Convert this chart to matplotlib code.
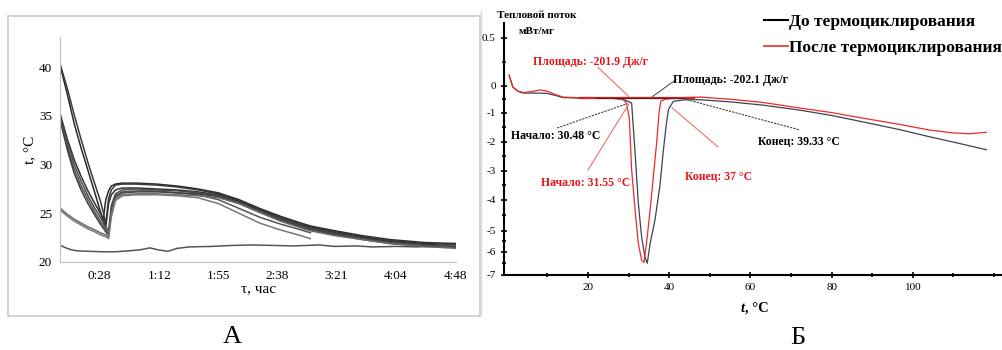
import numpy as np
import matplotlib.pyplot as plt
from matplotlib.patches import Rectangle
from matplotlib.lines import Line2D

plt.rcParams['font.family'] = ['Liberation Serif', 'DejaVu Serif']

# ---------- panel A: temperature vs time (minutes) ----------
tA = [0, 5, 10, 15, 20, 25, 29, 31, 33, 35, 37, 40, 45, 55, 70, 85, 100, 115,
      130, 145, 160, 175, 182, 200, 220, 240, 265, 288]
c1 = [40.0, 37.2, 34.2, 31.7, 29.4, 27.1, 25.2, 24.3, 26.4, 27.3, 27.8, 28.0, 28.1, 28.1,
      28.0, 27.8, 27.5, 27.1, 26.4, 25.5, 24.7, 24.0, 23.7, 23.2, 22.7, 22.3, 22.0, 21.9]
c2 = [40.2, 37.8, 35.1, 32.6, 30.2, 28.0, 26.3, 25.2, 23.9, 26.5, 27.4, 27.9, 28.0, 28.0,
      27.9, 27.7, 27.4, 27.0, 26.3, 25.4, 24.6, 23.9, 23.6, 23.1, 22.6, 22.2, 21.9, 21.8]
c3 = [35.1, 32.6, 30.5, 28.8, 27.3, 26.0, 25.0, 24.5, 23.6, 26.0, 26.9, 27.4, 27.6, 27.6,
      27.5, 27.4, 27.2, 26.9, 26.2, 25.3, 24.5, 23.8, 23.5, 23.0, 22.5, 22.1, 21.8, 21.7]
c4 = [34.9, 32.2, 30.0, 28.3, 26.8, 25.5, 24.6, 24.1, 23.6, 23.2, 25.8, 27.0, 27.4, 27.5,
      27.4, 27.3, 27.1, 26.8, 26.1, 25.2, 24.4, 23.7, 23.4, 22.9, 22.4, 22.0, 21.7, 21.6]
c5 = [34.6, 31.8, 29.5, 27.8, 26.4, 25.1, 24.2, 23.8, 23.3, 22.9, 25.4, 26.8, 27.2, 27.3,
      27.3, 27.1, 26.9, 26.4, 25.5, 24.6, 23.9, 23.3, 23.0]
c6 = [34.4, 31.5, 29.1, 27.4, 26.0, 24.8, 23.9, 23.5, 23.1, 22.8, 25.2, 26.7, 27.1, 27.2,
      27.2, 27.1, 27.0, 26.7, 26.0, 25.1, 24.3, 23.6, 23.3, 22.8, 22.3, 21.9, 21.6, 21.5]
c7 = [25.5, 24.9, 24.4, 24.0, 23.6, 23.3, 23.0, 22.9, 22.8, 22.6, 25.0, 26.5, 26.9, 27.0,
      27.0, 26.9, 26.8, 26.6, 26.0, 25.1, 24.2, 23.5, 23.2, 22.7, 22.3, 21.9, 21.6, 21.4]
c8 = [25.3, 24.7, 24.2, 23.8, 23.4, 23.1, 22.8, 22.7, 22.6, 22.4, 24.6, 26.3, 26.8, 26.9,
      26.9, 26.8, 26.6, 26.0, 25.0, 24.0, 23.3, 22.7, 22.4]

tB = [0, 4, 8, 12, 20, 30, 40, 50, 58, 65, 71, 78, 85, 94, 110, 125, 140, 155,
      170, 188, 200, 215, 227, 245, 260, 275, 288]
vB = [21.7, 21.45, 21.25, 21.15, 21.1, 21.05, 21.05, 21.15, 21.25, 21.45, 21.25, 21.1,
      21.4, 21.55, 21.6, 21.7, 21.75, 21.7, 21.65, 21.75, 21.6, 21.65, 21.55, 21.6,
      21.55, 21.65, 21.7]

a_ticks = [28, 72, 115, 158, 201, 244, 288]
a_labels = ['0:28', '1:12', '1:55', '2:38', '3:21', '4:04', '4:48']

# ---------- panel B: DSC heat flow ----------
bx = [0.6, 1.5, 2.8, 4.1, 7, 9.8, 12, 13.9, 18, 22, 26, 28.5, 29.9, 30.75, 31.6, 32.4,
      33.2, 34.0, 34.6, 35.3, 36.5, 37.7, 38.5, 39.2, 39.8, 41.0, 44, 47.6, 55, 63, 72.2,
      80, 88, 96.8, 104, 111, 118.1]
by = [0.11, -0.05, -0.21, -0.27, -0.27, -0.28, -0.36, -0.44, -0.46, -0.46, -0.47, -0.5,
      -0.58, -0.64, -2.39, -4.11, -5.28, -6.2, -6.49, -5.6, -4.65, -3.53, -2.39, -1.51,
      -0.89, -0.58, -0.52, -0.52, -0.6, -0.72, -0.91, -1.1, -1.33, -1.59, -1.83, -2.05, -2.28]
rx = [0.6, 1.5, 2.8, 4.1, 6, 8.2, 10, 12, 13.9, 18, 22, 26, 28.5, 29.5, 30.2, 30.75, 31.6,
      32.4, 33.2, 33.8, 34.4, 35.3, 36.1, 36.9, 37.5, 37.9, 39, 42, 47.6, 55, 63, 72.2, 80,
      88, 96.8, 104, 109.9, 114, 118.1]
ry = [0.11, -0.05, -0.2, -0.25, -0.22, -0.15, -0.2, -0.33, -0.42, -0.45, -0.45, -0.46,
      -0.5, -0.64, -1.24, -2.97, -4.33, -5.6, -6.35, -6.46, -5.6, -4.33, -3.2, -2.05, -1.01,
      -0.58, -0.5, -0.45, -0.42, -0.5, -0.62, -0.83, -1.0, -1.2, -1.41, -1.6, -1.7, -1.73, -1.68]

# baselines and leader lines: (x0, y0, x1, y1)
base_red = (18, -0.45, 46, -0.45)
base_blk = (22, -0.44, 44, -0.44)
lead_red = [(22.5, 0.19, 30.1, -0.41), (20.0, -2.98, 30.1, -0.67), (52.0, -2.18, 40.7, -0.82)]
lead_blk = [(35.8, -0.41, 41.7, 0.065)]
lead_blk_dash = [(12.4, -1.53, 29.6, -0.67), (44.4, -0.52, 72.2, -1.6)]

notes = [
    ('Площадь: -201.9 Дж/г', 20.5, 0.25, 'red'),
    ('Площадь: -202.1 Дж/г', 55.0, 0.065, 'black'),
    ('Начало: 30.48 °C', 12.1, -1.80, 'black'),
    ('Начало: 31.55 °C', 19.4, -3.43, 'red'),
    ('Конец: 37 °C', 52.1, -3.21, 'red'),
    ('Конец: 39.33 °C', 71.9, -2.01, 'black'),
]

# tick values and their heights on the (unevenly drawn) original axis
y_vals = [-8, -7, -6, -5, -4, -3, -2, -1, 0, 0.5, 1.0]
y_pos = [-23, 0, 23, 44.3, 75, 104.3, 133.3, 162.3, 189, 237.3, 285.6]

W, H = 1003, 350
fig = plt.figure(figsize=(W / 100, H / 100), dpi=100)

# frame around panel A
fig.patches.append(Rectangle((8 / W, 1 - 316 / H), 472 / W, 300 / H, transform=fig.transFigure,
                             fill=False, ec='#d4d4d4', lw=1.5))
fig.add_artist(Line2D([481 / W, 481 / W], [1 - 315 / H, 1 - 10 / H], color='#dddddd', lw=1))

axA = fig.add_axes([60.5 / W, 1 - 262 / H, (456 - 60.5) / W, 225 / H])
gray_cols = ['#2a2a2a', '#3a3a3a', '#333333', '#4a4a4a', '#555555', '#404040', '#6a6a6a', '#777777']
for c, col in zip([c1, c2, c3, c4, c5, c6, c7, c8], gray_cols):
    axA.plot(tA[:len(c)], c, color=col, lw=1.1)
axA.plot(tB, vB, color='#555555', lw=1.1)
axA.set_xlim(0, 288)
axA.set_ylim(20, 43.1)
axA.set_xticks(a_ticks)
axA.set_xticklabels(a_labels)
axA.set_yticks([20, 25, 30, 35, 40])
axA.tick_params(length=0, labelsize=9.5, pad=6)
for s in ['top', 'right']:
    axA.spines[s].set_visible(False)
for s in ['left', 'bottom']:
    axA.spines[s].set_color('#c0c0c0')
axA.set_xlabel('τ, час', fontsize=11, labelpad=0)
axA.set_ylabel('t, °C', fontsize=11, labelpad=2)
fig.text(232 / W, 1 - 337 / H, 'А', fontsize=19, ha='center', va='center')

# panel B
axB = fig.add_axes([504 / W, 1 - 275 / H, (W - 504) / W, 252 / H])
axB.set_yscale('function', functions=(lambda v: np.interp(v, y_vals, y_pos),
                                      lambda p: np.interp(p, y_pos, y_vals)))
axB.plot(bx, by, color='#3b4252', lw=0.9)
axB.plot(rx, ry, color='#ee2a2a', lw=0.9)
axB.plot(base_red[::2], base_red[1::2], color='#e02020', lw=1.6)
axB.plot(base_blk[::2], base_blk[1::2], color='#552222', lw=0.8)
for x0, y0, x1, y1 in lead_red:
    axB.plot([x0, x1], [y0, y1], color='#f07070', lw=0.8)
for x0, y0, x1, y1 in lead_blk:
    axB.plot([x0, x1], [y0, y1], color='#444444', lw=0.7)
for x0, y0, x1, y1 in lead_blk_dash:
    axB.plot([x0, x1], [y0, y1], color='#444444', lw=0.8, ls=(0, (2, 1)))
for txt, x, y, col in notes:
    axB.text(x, y, txt, color='#e8141c' if col == 'red' else 'black', fontsize=8.5,
             fontweight='bold', ha='center', va='center')

axB.set_xlim(-0.68, 122.2)
axB.set_ylim(-7, 0.65)
axB.set_xticks([20, 40, 60, 80, 100])
axB.set_xticks(np.arange(10, 121, 10), minor=True)
axB.set_yticks([-7, -6, -5, -4, -3, -2, -1, 0, 0.5])
axB.set_yticklabels(['-7', '-6', '-5', '-4', '-3', '-2', '-1', '0', '0.5'])
axB.set_yticks([-6.5, -5.5, -4.5, -3.5, -2.5, -1.5, -0.5, 0.25], minor=True)
axB.tick_params(which='both', direction='inout', width=1.2, labelsize=8, colors='black')
axB.tick_params(which='major', length=4, pad=4)
axB.tick_params(which='minor', length=3)
for s in ['top', 'right']:
    axB.spines[s].set_visible(False)
for s in ['left', 'bottom']:
    axB.spines[s].set_linewidth(1.5)

leg = axB.legend([Line2D([], [], color='black', lw=1.5), Line2D([], [], color='#ee2a2a', lw=1.2)],
                 ['До термоциклирования', 'После термоциклирования'],
                 loc='upper left', bbox_to_anchor=(764 / W, 1 - 14 / H), bbox_transform=fig.transFigure,
                 frameon=False, handlelength=1.4, handletextpad=0.05, labelspacing=0.55,
                 borderpad=0, borderaxespad=0, prop={'size': 12.5, 'weight': 'bold'})

fig.text(537 / W, 1 - 15 / H, 'Тепловой поток', fontsize=8, fontweight='bold', ha='center', va='center')
fig.text(537 / W, 1 - 32 / H, 'мВт/мг', fontsize=8, fontweight='bold', ha='center', va='center')
fig.text(745 / W, 1 - 308 / H, 't', fontsize=10.5, fontweight='bold', style='italic', ha='right', va='center')
fig.text(745 / W, 1 - 308 / H, ', °C', fontsize=10.5, fontweight='bold', ha='left', va='center')
fig.text(798 / W, 1 - 338 / H, 'Б', fontsize=19, ha='center', va='center')

fig.savefig('out.png', dpi=100)
